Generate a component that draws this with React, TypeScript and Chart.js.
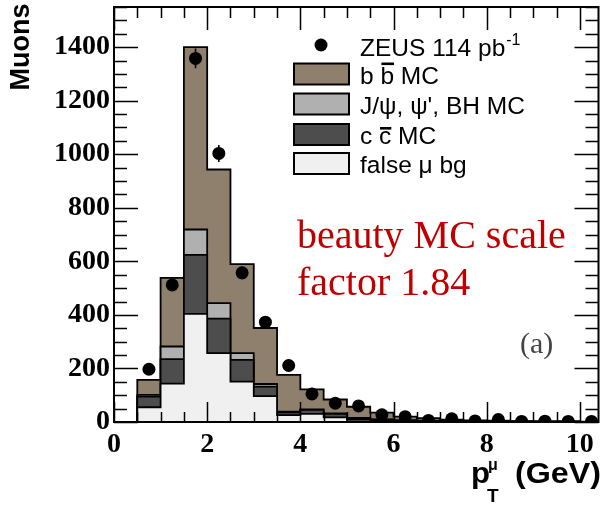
import React, { useEffect, useRef } from "react";
import { Chart, registerables } from "chart.js";

Chart.register(...registerables);

// Muon transverse-momentum histogram: bin edges in GeV (0.5 GeV bins)
const binEdges = [
  0.5, 1.0, 1.5, 2.0, 2.5, 3.0, 3.5, 4.0, 4.5, 5.0, 5.5,
  6.0, 6.5, 7.0, 7.5, 8.0, 8.5, 9.0, 9.5, 10.0, 10.5,
];

// Stacked MC components (muons per bin), bottom layer first
const falseMuBg = [55, 143, 404, 257, 151, 97, 26, 30, 17, 8, 5, 3, 2, 2, 1, 1, 1, 1, 1, 0];
const ccbarMC = [40, 92, 220, 129, 81, 35, 10, 15, 13, 6, 4, 3, 2, 1, 1, 1, 0, 0, 0, 0];
const jpsiBhMC = [6, 47, 95, 58, 25, 10, 3, 2, 2, 1, 1, 0, 0, 0, 0, 0, 0, 0, 0, 0];
const bbbarMC = [56, 256, 681, 499, 333, 209, 137, 75, 52, 42, 25, 14, 10, 6, 4, 3, 2, 1, 1, 1];

// ZEUS data points and their statistical errors
const zeusData = [197, 512, 1358, 1003, 557, 373, 211, 105, 70, 60, 27, 20, 6, 12, 4, 9, 2, 3, 2, 2];
const zeusErr = [14, 23, 37, 32, 24, 19, 15, 10, 8, 8, 5, 4, 3, 3, 2, 3, 2, 2, 2, 2];

// Axis ranges and tick spacing
const xRange = [0, 10.4];
const yRange = [0, 1550];
const xMajor = 2;
const xMinor = 0.5;
const yMajor = 200;
const yMinor = 50;

const legendLabels = ["ZEUS 114 pb", "b b MC", "J/\u03c8, \u03c8', BH MC", "c c MC", "false \u03bc bg"];
const layerColors = ["#f0f0f0", "#4d4d4d", "#b0b0b0", "#8f806e"];
const annotationLines = ["beauty MC scale", "factor 1.84"];
const panelLabel = "(a)";
const yTitle = "Muons";

const SANS = "'Liberation Sans', Arial, Helvetica, sans-serif";
const SERIF = "'Liberation Serif', 'Times New Roman', Times, serif";

const nBins = binEdges.length - 1;
const centers = binEdges.slice(0, -1).map((e, i) => (e + binEdges[i + 1]) / 2);

// cumulative stack levels: false bg, +ccbar, +J/psi, +bbbar
const layers = [falseMuBg, ccbarMC, jpsiBhMC, bbbarMC];
const cumLevels = layers.map((_, k) =>
  centers.map((_, i) => layers.slice(0, k + 1).reduce((s, l) => s + l[i], 0))
);

// step-outline points for a histogram (value held across each bin)
function stepPoints(vals: number[]) {
  const pts = [{ x: binEdges[0], y: 0 }];
  vals.forEach((v, i) => pts.push({ x: binEdges[i], y: v }));
  pts.push({ x: binEdges[nBins], y: vals[nBins - 1] });
  pts.push({ x: binEdges[nBins], y: 0 });
  return pts;
}

function drawFrame(chart: any) {
  const { ctx, chartArea: a, scales } = chart;
  const x = scales.x;
  const y = scales.y;
  ctx.save();
  ctx.strokeStyle = "#000";
  ctx.lineWidth = 1.5;
  ctx.beginPath();
  for (let v = xRange[0]; v <= xRange[1] + 1e-9; v += xMinor) {
    const px = Math.round(x.getPixelForValue(v)) + 0.5;
    const isMajor = Math.abs(v / xMajor - Math.round(v / xMajor)) < 1e-6;
    ctx.moveTo(px, a.bottom);
    ctx.lineTo(px, a.bottom - (isMajor ? 20 : 10));
    ctx.moveTo(px, a.top);
    ctx.lineTo(px, a.top + (isMajor ? 23 : 11));
  }
  for (let v = yRange[0]; v <= yRange[1] + 1e-9; v += yMinor) {
    const py = Math.round(y.getPixelForValue(v)) + 0.5;
    const len = v % yMajor === 0 ? 24 : 13;
    ctx.moveTo(a.left, py);
    ctx.lineTo(a.left + len, py);
    ctx.moveTo(a.right, py);
    ctx.lineTo(a.right - len, py);
  }
  ctx.stroke();
  ctx.lineWidth = 2;
  ctx.strokeRect(a.left, a.top, a.right - a.left, a.bottom - a.top);
  ctx.restore();
}

function drawErrorBars(chart: any) {
  const { ctx, scales } = chart;
  const x = scales.x;
  const y = scales.y;
  ctx.save();
  ctx.strokeStyle = "#000";
  ctx.lineWidth = 1.6;
  ctx.beginPath();
  zeusData.forEach((v, i) => {
    const px = x.getPixelForValue(centers[i]);
    ctx.moveTo(px, y.getPixelForValue(v + zeusErr[i]));
    ctx.lineTo(px, y.getPixelForValue(Math.max(0, v - zeusErr[i])));
  });
  ctx.stroke();
  ctx.restore();
}

// draws a single character with a bar over it, returns its advance width
function overlined(ctx: CanvasRenderingContext2D, ch: string, x: number, base: number) {
  ctx.fillText(ch, x, base);
  const m = ctx.measureText(ch);
  const top = base - m.actualBoundingBoxAscent;
  ctx.fillRect(x + 1, top - 4, m.width - 1, 2.6);
  return m.width;
}

function drawLegend(chart: any) {
  const { ctx } = chart;
  ctx.save();
  const textX = 360;
  const font = `24.5px ${SANS}`;
  ctx.font = font;
  ctx.fillStyle = "#000";
  ctx.textBaseline = "alphabetic";
  ctx.textAlign = "left";

  // data marker
  ctx.beginPath();
  ctx.arc(321, 45, 6.5, 0, Math.PI * 2);
  ctx.fill();
  ctx.fillText(legendLabels[0], textX, 56);
  const w0 = ctx.measureText(legendLabels[0]).width;
  ctx.font = `16px ${SANS}`;
  ctx.fillText("-1", textX + w0 + 1, 45);
  ctx.font = font;

  // histogram boxes, top of stack first
  const boxColors = [layerColors[3], layerColors[2], layerColors[1], layerColors[0]];
  const centersY = [74, 104, 134.5, 163.5];
  boxColors.forEach((c, k) => {
    const cy = centersY[k];
    ctx.fillStyle = c;
    ctx.fillRect(294, cy - 10.5, 55, 21);
    ctx.strokeStyle = "#000";
    ctx.lineWidth = 2;
    ctx.strokeRect(294, cy - 10.5, 55, 21);
  });
  ctx.fillStyle = "#000";
  const bases = centersY.map((c) => c + 9.5);

  // b bbar MC
  let xx = textX;
  const [q1, , m1] = legendLabels[1].split(" ");
  ctx.fillText(q1 + " ", xx, bases[0]);
  xx += ctx.measureText(q1 + " ").width;
  xx += overlined(ctx, q1, xx, bases[0]);
  ctx.fillText(" " + m1, xx, bases[0]);

  ctx.fillText(legendLabels[2], textX, bases[1]);

  // c cbar MC
  xx = textX;
  const [q2, , m2] = legendLabels[3].split(" ");
  ctx.fillText(q2 + " ", xx, bases[2]);
  xx += ctx.measureText(q2 + " ").width;
  xx += overlined(ctx, q2, xx, bases[2]);
  ctx.fillText(" " + m2, xx, bases[2]);

  ctx.fillText(legendLabels[4], textX, bases[3]);
  ctx.restore();
}

// text drawn left-aligned at x and stretched horizontally to a given width
function fitText(ctx: CanvasRenderingContext2D, s: string, x: number, base: number, width: number) {
  const w = ctx.measureText(s).width;
  ctx.save();
  ctx.translate(x, base);
  ctx.scale(width / w, 1);
  ctx.fillText(s, 0, 0);
  ctx.restore();
}

function drawTexts(chart: any) {
  const { ctx } = chart;
  ctx.save();
  ctx.textAlign = "left";
  ctx.textBaseline = "alphabetic";

  // red annotation
  ctx.fillStyle = "#c00000";
  ctx.font = `40px ${SERIF}`;
  ctx.fillText(annotationLines[0], 297, 248);
  ctx.fillText(annotationLines[1], 297, 295);

  // panel label
  ctx.fillStyle = "#444";
  ctx.font = `30px ${SERIF}`;
  ctx.fillText(panelLabel, 520, 353);

  // y title
  ctx.fillStyle = "#000";
  ctx.save();
  ctx.translate(22, 47);
  ctx.rotate(-Math.PI / 2);
  ctx.textAlign = "center";
  ctx.textBaseline = "middle";
  ctx.font = `bold 27px ${SANS}`;
  ctx.fillText(yTitle, 0, 0);
  ctx.restore();

  // x title: p_T^mu (GeV)
  ctx.font = `bold 29px ${SANS}`;
  fitText(ctx, "p", 471, 483, 19);
  ctx.font = `bold 16px ${SANS}`;
  ctx.fillText("\u03bc", 488, 470);
  ctx.font = `bold 19px ${SANS}`;
  ctx.fillText("T", 487, 502);
  ctx.font = `bold 29px ${SANS}`;
  fitText(ctx, "(GeV)", 515, 483, 86);
  ctx.restore();
}

const decorPlugin = {
  id: "decor",
  afterDatasetDraw(chart: any, args: any) {
    // axes frame and ticks sit above the histogram fills, below the data points
    if (args.index === 1) drawFrame(chart);
  },
  afterDatasetsDraw(chart: any) {
    drawErrorBars(chart);
  },
  afterDraw(chart: any) {
    drawLegend(chart);
    drawTexts(chart);
  },
};

export default function App() {
  const canvasRef = useRef<HTMLCanvasElement | null>(null);

  useEffect(() => {
    const canvas = canvasRef.current;
    if (!canvas) return;

    const histDataset = (k: number) => ({
      type: "line" as const,
      data: stepPoints(cumLevels[k]),
      stepped: "before" as const,
      fill: "origin",
      backgroundColor: layerColors[k],
      borderColor: "#000",
      borderWidth: 1.8,
      pointRadius: 0,
      pointHoverRadius: 0,
      tension: 0,
    });

    const chart = new Chart(canvas, {
      type: "line",
      data: {
        datasets: [
          {
            type: "line",
            data: zeusData.map((v, i) => ({ x: centers[i], y: v })),
            showLine: false,
            pointRadius: 6.5,
            pointHoverRadius: 6.5,
            pointBackgroundColor: "#000",
            pointBorderColor: "#000",
            pointBorderWidth: 0,
          } as any,
          histDataset(0),
          histDataset(1),
          histDataset(2),
          histDataset(3),
        ],
      },
      options: {
        animation: false,
        responsive: false,
        maintainAspectRatio: false,
        events: [],
        layout: { padding: { top: 7, right: 3, left: 0, bottom: 0 } },
        plugins: {
          legend: { display: false },
          tooltip: { enabled: false },
        },
        scales: {
          x: {
            type: "linear",
            min: xRange[0],
            max: xRange[1],
            grid: { display: false, drawTicks: false },
            border: { display: false },
            ticks: {
              stepSize: xMajor,
              includeBounds: false,
              maxRotation: 0,
              autoSkip: false,
              padding: 6,
              color: "#000",
              font: { family: SERIF, size: 28, weight: "bold" },
              callback: (v: any) => String(v),
            },
            afterFit: (s: any) => {
              s.height = 83;
              s.paddingLeft = 0;
              s.paddingRight = 0;
            },
          },
          y: {
            type: "linear",
            min: yRange[0],
            max: yRange[1],
            grid: { display: false, drawTicks: false },
            border: { display: false },
            ticks: {
              stepSize: yMajor,
              includeBounds: false,
              autoSkip: false,
              padding: 4,
              color: "#000",
              font: { family: SERIF, size: 28, weight: "bold" },
              callback: (v: any) => String(v),
            },
            afterFit: (s: any) => {
              s.width = 114;
              s.paddingTop = 0;
              s.paddingBottom = 0;
            },
          },
        },
      } as any,
      plugins: [decorPlugin],
    });

    return () => chart.destroy();
  }, []);

  return (
    <div style={{ position: "fixed", left: 0, top: 0, width: 605, height: 505, background: "#fff" }}>
      <canvas ref={canvasRef} width={605} height={505} style={{ display: "block" }} />
    </div>
  );
}
